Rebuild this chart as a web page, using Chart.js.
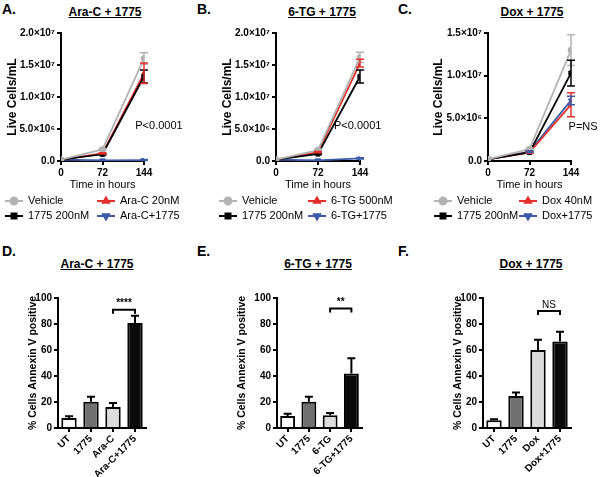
<!DOCTYPE html>
<html>
<head>
<meta charset="utf-8">
<script src="https://cdn.jsdelivr.net/npm/chart.js@4.4.1/dist/chart.umd.min.js"></script>
<style>
  body { margin: 0; background: #fff; width: 600px; height: 477px; position: relative; overflow: hidden;
         font-family: "Liberation Sans", Arial, sans-serif; color: #000; }
  canvas { position: absolute; }
  .letter { position: absolute; font-weight: bold; font-size: 14px; }
  .ttl { position: absolute; font-weight: bold; font-size: 12px; text-decoration: underline;
         transform: translateX(-50%); white-space: nowrap; }
</style>
</head>
<body>
<div class="letter" style="left:2px;top:1px">A.</div>
<div class="letter" style="left:197px;top:1px">B.</div>
<div class="letter" style="left:398px;top:1px">C.</div>
<div class="letter" style="left:2px;top:243px">D.</div>
<div class="letter" style="left:197px;top:243px">E.</div>
<div class="letter" style="left:398px;top:243px">F.</div>

<div class="ttl" style="left:105px;top:5px">Ara-C + 1775</div>
<div class="ttl" style="left:322px;top:5px">6-TG + 1775</div>
<div class="ttl" style="left:532px;top:5px">Dox + 1775</div>
<div class="ttl" style="left:97px;top:257px">Ara-C + 1775</div>
<div class="ttl" style="left:318px;top:257px">6-TG + 1775</div>
<div class="ttl" style="left:531px;top:257px">Dox + 1775</div>

<canvas id="chartA" width="195" height="230" style="left:0;top:0"></canvas>
<canvas id="chartB" width="200" height="230" style="left:195px;top:0"></canvas>
<canvas id="chartC" width="205" height="230" style="left:395px;top:0"></canvas>
<canvas id="chartD" width="195" height="237" style="left:0;top:240px"></canvas>
<canvas id="chartE" width="200" height="237" style="left:195px;top:240px"></canvas>
<canvas id="chartF" width="205" height="237" style="left:395px;top:240px"></canvas>

<script>
// growth curves (live cells/mL at 0, 72, 144 h)
const hours = [0, 72, 144];
const yTicks2e7 = ["0.0", "5.0×10⁶", "1.0×10⁷", "1.5×10⁷", "2.0×10⁷"];
const yTicks15e6 = ["0.0", "5.0×10⁶", "1.0×10⁷", "1.5×10⁷"];

const vehicleA = [2.0e5, 1.8e6, 1.6e7];
const vehicleErrA = [0, 1.5e5, 9e5];
const only1775A = [2.0e5, 1.05e6, 1.32e7];
const only1775ErrA = [0, 1e5, 1e6];
const araC = [2.0e5, 1.2e6, 1.37e7];
const araCErr = [0, 1e5, 1.6e6];
const araC1775 = [2.0e5, 1.0e5, 1.5e5];
const araC1775Err = [0, 3e4, 8e4];

const vehicleB = [2.0e5, 1.7e6, 1.62e7];
const vehicleErrB = [0, 1.5e5, 8e5];
const only1775B = [2.0e5, 1.1e6, 1.32e7];
const only1775ErrB = [0, 1e5, 1e6];
const tg = [2.0e5, 1.4e6, 1.53e7];
const tgErr = [0, 1e5, 6e5];
const tg1775 = [2.0e5, 1.0e5, 4.0e5];
const tg1775Err = [0, 3e4, 1e5];

const vehicleC = [2.0e5, 1.4e6, 1.30e7];
const vehicleErrC = [0, 1e5, 1.8e6];
const only1775C = [2.0e5, 1.0e6, 1.03e7];
const only1775ErrC = [0, 1e5, 1.5e6];
const dox = [2.0e5, 1.0e6, 6.6e6];
const doxErr = [0, 1e5, 1.4e6];
const dox1775 = [2.0e5, 1.1e6, 7.1e6];
const dox1775Err = [0, 1e5, 5e5];

// annexin V (% positive)
const groupsD = ["UT", "1775", "Ara-C", "Ara-C+1775"];
const annexinD = [7.7, 20.1, 16.2, 80.7];
const annexinErrD = [1.3, 3.9, 3.1, 5.6];
const groupsE = ["UT", "1775", "6-TG", "6-TG+1775"];
const annexinE = [9.3, 20.1, 9.8, 42];
const annexinErrE = [1.7, 3.9, 1.8, 11.6];
const groupsF = ["UT", "1775", "Dox", "Dox+1775"];
const annexinF = [5.9, 24.7, 60, 66.5];
const annexinErrF = [0.8, 2.6, 7.8, 7.5];

Chart.defaults.font.family = '"Liberation Sans", Arial, sans-serif';
Chart.defaults.color = "#000";

const GREY = "#b3b3b3", BLACK = "#000000", RED = "#e3302b", BLUE = "#3d5ba8";

// error bars drawn through the y scale
const errBars = {
  id: "errBars",
  afterDatasetsDraw(chart) {
    const ctx = chart.ctx, ys = chart.scales.y;
    chart.data.datasets.forEach((ds, i) => {
      if (!ds.errors) return;
      const meta = chart.getDatasetMeta(i);
      ctx.save();
      ctx.strokeStyle = ds.errColor || ds.borderColor;
      ctx.lineWidth = ds.errWidth || 1.5;
      meta.data.forEach((el, j) => {
        const e = ds.errors[j];
        if (!e) return;
        const v = ds.data[j];
        const top = ys.getPixelForValue(v + e);
        const bot = ds.upOnly ? ys.getPixelForValue(v) : ys.getPixelForValue(v - e);
        const cap = ds.capWidth || 4;
        ctx.beginPath();
        ctx.moveTo(el.x, top); ctx.lineTo(el.x, bot);
        ctx.moveTo(el.x - cap, top); ctx.lineTo(el.x + cap, top);
        if (!ds.upOnly) { ctx.moveTo(el.x - cap, bot); ctx.lineTo(el.x + cap, bot); }
        ctx.stroke();
      });
      ctx.restore();
    });
  }
};

// 2x2 legend with line + marker
const gridLegend = {
  id: "gridLegend",
  afterDraw(chart, args, opts) {
    if (!opts.textX) return;
    const ctx = chart.ctx;
    chart.data.datasets.forEach((ds, i) => {
      const tx = opts.textX[Math.floor(i / 2)];
      const y = opts.rowY[i % 2];
      ctx.save();
      ctx.strokeStyle = ds.borderColor;
      ctx.fillStyle = ds.borderColor;
      ctx.lineWidth = 2;
      ctx.beginPath();
      ctx.moveTo(tx - 23, y); ctx.lineTo(tx - 5, y);
      ctx.stroke();
      Chart.helpers.drawPoint(ctx, { pointStyle: ds.pointStyle, rotation: ds.pointRotation || 0, radius: 3.5, borderWidth: 1 }, tx - 14, y);
      ctx.fillStyle = "#000";
      ctx.font = '11px "Liberation Sans", Arial, sans-serif';
      ctx.textBaseline = "middle";
      ctx.textAlign = "left";
      ctx.fillText(ds.label, tx, y);
      ctx.restore();
    });
  }
};

// text notes placed in data coordinates
const notes = {
  id: "notes",
  afterDraw(chart, args, opts) {
    if (!opts.items) return;
    const ctx = chart.ctx;
    opts.items.forEach((n) => {
      ctx.save();
      ctx.font = '11px "Liberation Sans", Arial, sans-serif';
      ctx.fillStyle = "#000";
      ctx.textAlign = "center";
      ctx.textBaseline = "middle";
      ctx.fillText(n.text, chart.scales.x.getPixelForValue(n.x), chart.scales.y.getPixelForValue(n.y));
      ctx.restore();
    });
  }
};

// significance bracket between two bars
const bracket = {
  id: "bracket",
  afterDraw(chart, args, opts) {
    if (!opts.text) return;
    const ctx = chart.ctx;
    const meta = chart.getDatasetMeta(0);
    const x1 = meta.data[opts.from].x, x2 = meta.data[opts.to].x;
    const y = chart.scales.y.getPixelForValue(opts.y);
    ctx.save();
    ctx.strokeStyle = "#000";
    ctx.lineWidth = 2;
    ctx.beginPath();
    ctx.moveTo(x1, y + 4); ctx.lineTo(x1, y); ctx.lineTo(x2, y); ctx.lineTo(x2, y + 4);
    ctx.stroke();
    ctx.fillStyle = "#000";
    ctx.font = (opts.bold ? "bold " : "") + '10px "Liberation Sans", Arial, sans-serif';
    ctx.textAlign = "center";
    ctx.textBaseline = "bottom";
    ctx.fillText(opts.text, (x1 + x2) / 2, y - 1);
    ctx.restore();
  }
};

function axisStyle() {
  return {
    grid: { drawOnChartArea: false, tickLength: 4, color: "#000", lineWidth: 2 },
    border: { color: "#000", width: 2 }
  };
}

function series(label, data, errors, color, style, rot) {
  return {
    label, data, errors,
    borderColor: color, backgroundColor: color,
    pointBackgroundColor: color, pointBorderColor: color,
    pointStyle: style, pointRotation: rot || 0, rotation: rot || 0,
    pointRadius: 3, pointBorderWidth: 1, borderWidth: 1.8, tension: 0,
    errWidth: 1.5, capWidth: 4
  };
}

function lineChart(id, sets, yMax, yLabels, padLeft, axisX, padRight, legendX, note) {
  return new Chart(document.getElementById(id), {
    type: "line",
    data: { labels: hours, datasets: sets },
    plugins: [errBars, gridLegend, notes],
    options: {
      responsive: false, animation: false,
      layout: { padding: { left: padLeft, right: padRight, top: 33, bottom: 34 } },
      plugins: {
        legend: { display: false }, tooltip: { enabled: false },
        gridLegend: { textX: legendX, rowY: [201, 216] },
        notes: { items: [note] }
      },
      scales: {
        x: {
          type: "linear", min: 0, max: 144,
          afterFit: (s) => { s.height = 35; },
          ticks: { stepSize: 72, font: { weight: "bold", size: 10 }, padding: 2, maxRotation: 0 },
          title: { display: true, text: "Time in hours", font: { size: 11 }, padding: { top: 0, bottom: 4 } },
          ...axisStyle()
        },
        y: {
          min: 0, max: yMax,
          afterFit: (s) => { s.width = axisX - padLeft; },
          ticks: { stepSize: 5e6, font: { weight: "bold", size: 10 }, padding: 2, callback: (v, i) => yLabels[i] },
          title: { display: true, text: "Live Cells/mL", font: { weight: "bold", size: 12 }, padding: { top: 0, bottom: 0 } },
          ...axisStyle()
        }
      }
    }
  });
}

function barChart(id, groups, values, errors, padLeft, axisX, padRight, sig) {
  return new Chart(document.getElementById(id), {
    type: "bar",
    data: {
      labels: groups,
      datasets: [{
        data: values, errors, upOnly: true, errColor: "#000", errWidth: 2, capWidth: 4,
        backgroundColor: ["#ffffff", "#707070", "#dcdcdc", "#0a0a0a"],
        borderColor: "#000", borderWidth: 2, barPercentage: 0.7, categoryPercentage: 1
      }]
    },
    plugins: [errBars, bracket],
    options: {
      responsive: false, animation: false,
      layout: { padding: { left: padLeft, right: padRight, top: 58, bottom: 0 } },
      plugins: { legend: { display: false }, tooltip: { enabled: false }, bracket: sig },
      scales: {
        x: {
          afterFit: (s) => { s.height = 49; },
          ticks: { font: { weight: "bold", size: 10 }, padding: 1, minRotation: 45, maxRotation: 45 },
          ...axisStyle(),
          grid: { drawOnChartArea: false, tickLength: 4, color: "#000", lineWidth: 2, offset: false }
        },
        y: {
          min: 0, max: 100,
          afterFit: (s) => { s.width = axisX - padLeft; },
          ticks: { stepSize: 20, font: { weight: "bold", size: 10 }, padding: 2 },
          title: { display: true, text: "% Cells Annexin V positive", font: { weight: "bold", size: 10.5 }, padding: { top: 0, bottom: 0 } },
          ...axisStyle()
        }
      }
    }
  });
}

lineChart("chartA", [
  series("Vehicle", vehicleA, vehicleErrA, GREY, "circle"),
  series("1775 200nM", only1775A, only1775ErrA, BLACK, "rect"),
  series("Ara-C 20nM", araC, araCErr, RED, "triangle"),
  series("Ara-C+1775", araC1775, araC1775Err, BLUE, "triangle", 180)
], 2e7, yTicks2e7, 5, 61, 51, [28, 120], { x: 170, y: 5.5e6, text: "P<0.0001" });

lineChart("chartB", [
  series("Vehicle", vehicleB, vehicleErrB, GREY, "circle"),
  series("1775 200nM", only1775B, only1775ErrB, BLACK, "rect"),
  series("6-TG 500nM", tg, tgErr, RED, "triangle"),
  series("6-TG+1775", tg1775, tg1775Err, BLUE, "triangle", 180)
], 2e7, yTicks2e7, 25, 81, 35, [47, 136], { x: 140, y: 5.5e6, text: "P<0.0001" });

lineChart("chartC", [
  series("Vehicle", vehicleC, vehicleErrC, GREY, "circle"),
  series("1775 200nM", only1775C, only1775ErrC, BLACK, "rect"),
  series("Dox 40nM", dox, doxErr, RED, "triangle"),
  series("Dox+1775", dox1775, dox1775Err, BLUE, "triangle", 180)
], 1.5e7, yTicks15e6, 36, 93, 29, [62, 147], { x: 165, y: 4.0e6, text: "P=NS" });

barChart("chartD", groupsD, annexinD, annexinErrD, 27, 58, 49, { from: 2, to: 3, y: 91, text: "****", bold: true });
barChart("chartE", groupsE, annexinE, annexinErrE, 41, 82, 33, { from: 2, to: 3, y: 92, text: "**", bold: true });
barChart("chartF", groupsF, annexinF, annexinErrF, 57, 88, 29, { from: 2, to: 3, y: 90, text: "NS", bold: false });
</script>
</body>
</html>
